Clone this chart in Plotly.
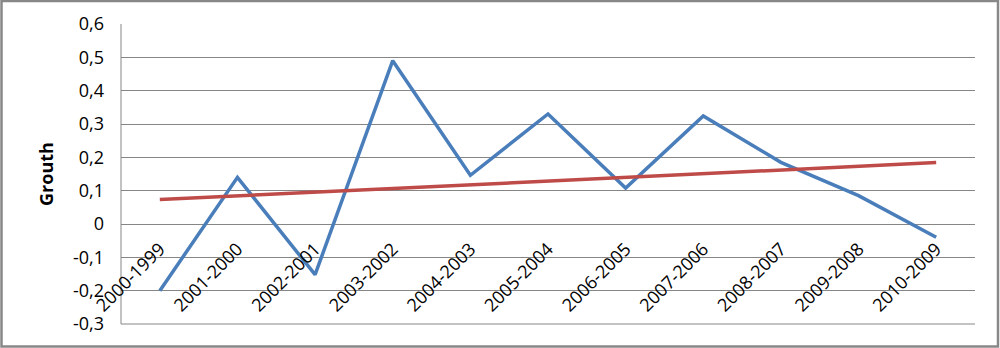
import numpy as np
import plotly.graph_objects as go

categories = ["2000-1999", "2001-2000", "2002-2001", "2003-2002", "2004-2003",
              "2005-2004", "2006-2005", "2007-2006", "2008-2007", "2009-2008", "2010-2009"]
growth = [-0.200, 0.140, -0.152, 0.490, 0.146, 0.330, 0.108, 0.324, 0.185, 0.085, -0.040]
y_ticks = [-0.3, -0.2, -0.1, 0, 0.1, 0.2, 0.3, 0.4, 0.5, 0.6]
y_tick_labels = ["-0,3", "-0,2", "-0,1", "0", "0,1", "0,2", "0,3", "0,4", "0,5", "0,6"]

# linear trendline (least squares, as in the spreadsheet)
idx = np.arange(1, len(growth) + 1)
slope, intercept = np.polyfit(idx, growth, 1)
trend = list(slope * idx + intercept)

L, R, T, B = 121, 25, 23, 23
W, H = 1000, 348
pw, ph = W - L - R, H - T - B

fig = go.Figure()
fig.add_trace(go.Scatter(x=categories, y=growth, mode="lines",
                         line=dict(color="#4A7EBB", width=3.5), showlegend=False))
fig.add_trace(go.Scatter(x=categories, y=trend, mode="lines",
                         line=dict(color="#BE4B48", width=3.5), showlegend=False))

font_family = "Open Sans, Liberation Sans, sans-serif"
y_range = [-0.303, 0.603]
zero_frac = (0 - y_range[0]) / (y_range[1] - y_range[0])

fig.update_layout(
    width=W, height=H,
    margin=dict(l=L, r=R, t=T, b=B),
    plot_bgcolor="white", paper_bgcolor="white",
    font=dict(family=font_family, size=18, color="black"),
    xaxis=dict(
        type="category", range=[-0.5, len(categories) - 0.5],
        showgrid=False, zeroline=False, showline=False, ticks="",
        tickangle=-45, anchor="free", position=zero_frac,
        tickfont=dict(size=18), ticklabelstandoff=10,
    ),
    yaxis=dict(
        range=y_range, tickvals=y_ticks, ticktext=y_tick_labels,
        showgrid=True, gridcolor="#868686", gridwidth=1,
        zeroline=False, showline=False, ticks="", ticklabelstandoff=16,
        title=dict(text="<b>Grouth</b>", font=dict(size=18), standoff=14),
    ),
    shapes=[
        dict(type="line", xref="paper", yref="y", x0=0, x1=0,
             y0=y_ticks[0], y1=y_ticks[-1], line=dict(color="#868686", width=1),
             layer="below"),
        dict(type="line", xref="paper", yref="y", x0=0, x1=1,
             y0=y_ticks[0], y1=y_ticks[0], line=dict(color="#868686", width=1),
             layer="below"),
        dict(type="rect", xref="paper", yref="paper",
             x0=(1.5 - L) / pw, x1=(998 - L) / pw,
             y0=(H - B - 346.5) / ph, y1=(H - B - 1) / ph,
             line=dict(color="#888888", width=2.5), fillcolor="rgba(0,0,0,0)",
             layer="above"),
    ],
)

fig.write_html("out.html", config={"displayModeBar": False},
               post_script="document.body.style.margin='0';document.body.style.overflow='hidden';")
